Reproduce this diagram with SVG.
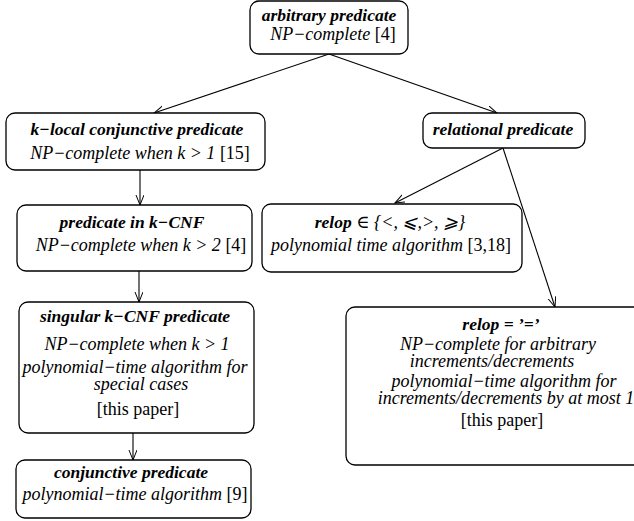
<svg xmlns="http://www.w3.org/2000/svg" width="634" height="521" viewBox="0 0 634 521">
<defs>
<marker id="arr" markerWidth="12" markerHeight="10" refX="10" refY="4" orient="auto" markerUnits="userSpaceOnUse">
<path d="M0,0 L10,4 L0,8" fill="none" stroke="#000" stroke-width="1"/>
</marker>
<style>
.box{fill:#fff;stroke:#000;stroke-width:1.3}
text{font-family:"Liberation Serif","Times New Roman","DejaVu Serif",serif;font-size:18px;fill:#000;text-anchor:middle}
.t{font-weight:bold;font-style:italic;font-size:17.5px}
.i{font-style:italic}
.c line{stroke:#000;stroke-width:1.1;marker-end:url(#arr)}
</style>
</defs>
<rect width="634" height="521" fill="#fff"/>
<g class="c" id="connectors">
<line x1="329" y1="54" x2="154" y2="113"/>
<line x1="329" y1="54" x2="497" y2="113"/>
<line x1="140" y1="170" x2="140" y2="205"/>
<line x1="503" y1="148" x2="395" y2="203"/>
<line x1="503" y1="148" x2="555" y2="307"/>
<line x1="139" y1="271" x2="139" y2="302"/>
<line x1="133" y1="433" x2="133" y2="460"/>
</g>
<g id="arbitrary">
<rect class="box" x="250" y="1" width="158" height="53" rx="9"/>
<text class="t" x="329" y="21">arbitrary predicate</text>
<text x="333" y="40"><tspan class="i">NP−complete</tspan> [4]</text>
</g>
<g id="klocal">
<rect class="box" x="6" y="113" width="259" height="57" rx="9"/>
<text class="t" x="137" y="135">k−local conjunctive predicate</text>
<text x="140" y="159"><tspan class="i">NP−complete when k &gt; 1</tspan>  [15]</text>
</g>
<g id="relational">
<rect class="box" x="423" y="113" width="162" height="35" rx="9"/>
<text class="t" x="503" y="135">relational predicate</text>
</g>
<g id="kcnf">
<rect class="box" x="17" y="205" width="235" height="66" rx="9"/>
<text class="t" x="132" y="228">predicate in k−CNF</text>
<text x="141" y="251"><tspan class="i">NP−complete when k &gt; 2</tspan>  [4]</text>
</g>
<g id="relop-ineq">
<rect class="box" x="262" y="204" width="260" height="68" rx="9"/>
<text x="390" y="228"><tspan class="t">relop</tspan><tspan class="i"> ∈ {&lt;, ⩽,&gt;, ⩾}</tspan></text>
<text x="391" y="251"><tspan class="i">polynomial time algorithm</tspan>  [3,18]</text>
</g>
<g id="singular">
<rect class="box" x="19" y="302" width="235" height="131" rx="9"/>
<text class="t" x="135" y="322">singular k−CNF predicate</text>
<text class="i" x="137" y="350">NP−complete when k &gt; 1</text>
<text class="i" x="135" y="373">polynomial−time algorithm for</text>
<text class="i" x="141" y="390">special cases</text>
<text x="138" y="415">[this paper]</text>
</g>
<g id="relop-eq">
<rect class="box" x="346" y="307" width="310" height="158" rx="9"/>
<text class="t" x="501" y="330">relop = ’=’</text>
<text class="i" x="498" y="350">NP−complete for arbitrary</text>
<text class="i" x="492" y="367">increments/decrements</text>
<text class="i" x="504" y="387">polynomial−time algorithm for</text>
<text class="i" x="506" y="404">increments/decrements by at most 1</text>
<text x="502" y="426">[this paper]</text>
</g>
<g id="conjunctive">
<rect class="box" x="16" y="460" width="235" height="58" rx="9"/>
<text class="t" x="131" y="478">conjunctive predicate</text>
<text x="135" y="500"><tspan class="i">polynomial−time algorithm</tspan> [9]</text>
</g>
</svg>
